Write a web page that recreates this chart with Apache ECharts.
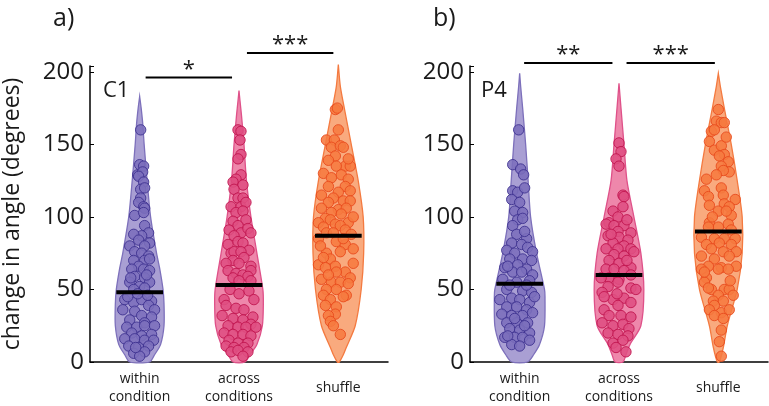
<!DOCTYPE html>
<html>
<head>
<meta charset="utf-8">
<script src="https://cdn.jsdelivr.net/npm/echarts@6/dist/echarts.min.js"></script>
<style>html,body{margin:0;padding:0;background:#fff}#c{width:769px;height:406px}</style>
</head>
<body>
<div id="c"></div>
<script>
// ---------- DATA ----------
const categories = ['within\ncondition', 'across\nconditions', 'shuffle'];
const yTicks = [0, 50, 100, 150, 200];
const panelLabels = ['a)', 'b)'];
const subjectLabels = ['C1', 'P4'];

// medians (degrees) per category
const c1Medians = [48, 53, 87];
const p4Medians = [54, 60, 90];

// violin profiles: [angle, half-width in category units]
const c1WithinViolin = [[0,.10],[5,.15],[12,.21],[25,.245],[40,.245],[50,.235],[65,.20],[75,.17],[100,.11],[125,.075],[150,.045],[165,.03],[175,.015],[183,0]];
const c1AcrossViolin = [[0,.06],[5,.11],[12,.18],[25,.235],[40,.245],[50,.24],[75,.18],[100,.12],[125,.075],[150,.05],[170,.025],[180,.01],[187,0]];
const c1ShuffleViolin = [[0,.01],[5,.05],[10,.08],[25,.17],[50,.23],[75,.255],[100,.25],[125,.20],[150,.13],[175,.06],[190,.02],[205,0]];
const p4WithinViolin = [[0,.08],[5,.14],[12,.20],[25,.25],[45,.255],[50,.25],[75,.17],[100,.11],[125,.085],[150,.06],[175,.03],[190,.01],[199,0]];
const p4AcrossViolin = [[0,.04],[5,.07],[12,.11],[25,.22],[50,.25],[75,.22],[100,.15],[125,.08],[150,.05],[175,.02],[192,0]];
const p4ShuffleViolin = [[0,.01],[10,.05],[25,.09],[50,.19],[75,.24],[100,.24],[125,.19],[150,.13],[175,.06],[190,.02],[199,0]];

// individual points: [horizontal offset (category units), angle]
const c1Within = [[.01,160],[.00,136],[.04,135],[-.02,129],[.03,131],[-.01,128],[.04,124],[.01,119],[.05,120],[.01,113],[-.01,110],[.04,107],[.05,106],[-.05,101],[.04,103],[.05,94],[.09,89],[.02,87],[-.06,88],[-.01,84],[.10,82],[.05,80],[-.10,80],[-.05,76],[.02,75],[.09,73],[-.06,70],[.05,70],[.10,71],[-.01,66],[-.08,64],[.04,64],[.10,63],[-.05,59],[.05,58],[-.10,55],[.10,55],[.00,52],[-.06,50],[.05,51],[-.15,43],[-.06,41],[.02,43],[.12,42],[-.17,36],[-.05,35],[.09,39],[.15,36],[.02,32],[-.10,29],[.12,31],[.05,27],[-.13,24],[-.03,24],[.05,25],[.15,25],[-.08,20],[.02,18],[.12,19],[-.15,16],[-.05,16],[.05,15],[.14,15],[-.11,11],[-.01,10],[.09,11],[-.06,6],[.05,7],[.00,4],[-.04,10],[-.12,45],[.08,46],[-.02,47],[-.09,58],[.07,60]];
const c1Across = [[-.01,160],[.02,159],[.01,153],[.02,143],[-.01,140],[.02,129],[-.03,126],[-.06,124],[.04,122],[-.05,119],[-.01,113],[.04,113],[-.08,107],[.02,107],[.07,110],[-.03,103],[.04,104],[-.06,97],[.07,98],[-.01,94],[-.10,91],[.02,89],[-.05,87],[.09,92],[.12,89],[-.11,81],[-.01,83],[.04,82],[.10,77],[-.08,75],[-.05,76],[.02,76],[.05,72],[-.06,70],[-.13,68],[.00,68],[.12,66],[-.11,63],[-.03,61],[.04,60],[.12,63],[-.06,58],[.09,59],[.00,56],[.12,56],[.10,49],[.15,43],[-.15,43],[-.13,39],[-.03,37],[.05,36],[.14,31],[-.17,32],[-.06,30],[.04,29],[.12,26],[-.11,25],[-.01,24],[.07,24],[.17,24],[-.15,20],[-.06,19],[.04,19],[.12,18],[-.10,15],[-.01,13],[.09,13],[-.13,11],[-.05,10],[.05,10],[-.08,7],[-.01,8],[.09,7],[.04,4],[-.09,50],[.00,47]];
const c1Shuffle = [[-.03,174],[-.01,175],[-.12,153],[-.04,153],[-.07,148],[.02,149],[.05,148],[-.03,142],[-.10,139],[.07,135],[.12,135],[-.02,135],[-.15,130],[.03,129],[-.07,127],[.10,126],[-.10,121],[.07,121],[.00,117],[-.17,115],[.12,118],[-.05,113],[.05,111],[-.10,110],[.12,111],[-.17,106],[.00,105],[.08,106],[-.07,103],[.03,102],[-.13,99],[-.20,96],[-.08,98],[.10,96],[-.03,95],[-.15,93],[.02,94],[.07,91],[-.12,89],[-.05,89],[-.02,83],[.07,81],[.15,78],[.02,76],[-.12,75],[-.08,71],[-.20,67],[-.03,66],[-.13,65],[.07,62],[-.02,62],[.12,58],[-.17,57],[-.07,55],[.02,55],[.10,54],[-.12,50],[-.02,50],[-.15,46],[.08,46],[-.08,43],[-.13,39],[-.02,38],[-.03,33],[-.10,32],[-.08,28],[.02,19],[.05,85],[-.20,85],[.13,88],[-.18,80],[.15,100],[.15,68],[-.10,60],[.05,45],[-.05,25],[-.15,72],[.10,140],[.00,160]];
const p4Within = [[-.01,160],[-.07,136],[.01,133],[.04,129],[-.07,118],[-.02,117],[.05,120],[-.08,112],[.00,110],[-.05,104],[.03,103],[-.02,98],[-.07,94],[.03,99],[-.03,88],[.07,85],[-.08,82],[.02,81],[-.13,77],[.08,79],[-.05,75],[.13,76],[.03,71],[-.10,71],[-.02,67],[.12,70],[-.15,65],[.07,64],[-.07,62],[.02,62],[.13,60],[-.17,57],[.10,56],[-.03,55],[-.13,50],[.03,49],[.12,48],[-.08,44],[-.20,43],[.00,43],[.10,41],[-.13,38],[-.03,38],[.07,36],[-.18,33],[-.08,32],[.03,32],[.13,34],[-.13,27],[-.03,27],[.08,27],[-.10,23],[.00,22],[.10,20],[-.15,17],[-.05,17],[.03,17],[-.08,12],[.00,11],[-.12,18],[.10,15],[-.05,30],[.05,25],[.15,45],[-.12,66],[.05,90],[-.10,53],[.07,53]];
const p4Across = [[.00,151],[.02,145],[-.03,140],[.00,135],[.04,115],[.05,114],[-.06,104],[.04,107],[-.01,100],[-.10,96],[-.13,95],[-.05,94],[.05,94],[-.01,90],[.12,89],[-.11,87],[.00,86],[.09,84],[-.06,82],[.05,80],[-.13,78],[-.01,78],[.12,78],[-.05,74],[.05,73],[-.10,70],[.00,68],[-.13,64],[.12,65],[-.05,64],[.05,63],[-.10,58],[.00,57],[-.18,58],[.12,60],[-.11,52],[-.01,55],[.12,51],[.17,50],[-.17,48],[-.06,43],[.05,44],[-.01,39],[.12,41],[-.15,36],[-.10,32],[.02,32],[.12,31],[-.17,27],[-.06,25],[.04,26],[.10,23],[-.11,20],[-.01,19],[.09,18],[-.06,13],[.04,15],[-.03,10],[.07,7],[-.08,88],[.08,98],[-.02,47],[.08,70],[-.15,45],[.15,76]];
const p4Shuffle = [[.00,174],[-.02,166],[.03,165],[.06,165],[-.07,159],[-.04,160],[-.09,152],[-.04,146],[.03,149],[.06,143],[.01,142],[.10,138],[.03,135],[.11,131],[.05,132],[-.02,129],[-.12,126],[-.14,118],[-.10,114],[.03,120],[.05,115],[-.09,108],[.17,112],[.06,109],[.11,107],[.00,104],[.13,101],[.08,104],[-.09,96],[.10,95],[.00,93],[-.10,93],[.13,91],[-.17,86],[-.04,85],[.06,85],[.17,85],[-.12,81],[.01,82],[.13,81],[-.07,78],[.05,76],[.18,76],[-.17,73],[.11,73],[-.04,71],[-.10,66],[.03,65],[.18,66],[-.17,64],[.00,64],[.10,64],[-.12,58],[-.14,55],[-.07,50],[-.10,51],[.06,50],[.11,50],[.15,46],[.00,46],[-.05,42],[.05,42],[-.04,39],[-.09,36],[.03,34],[.11,36],[-.04,32],[.05,30],[.03,22],[.01,14],[.03,4],[-.14,62],[.12,56],[-.06,100],[.08,155]];

// significance brackets: [from category position, to category position, angle level]
const c1Sig = [[0.06, 0.93, 196], [1.08, 1.95, 213]];
const c1SigLabels = ['*', '***'];
const p4Sig = [[0.045, 0.934, 206], [1.076, 1.965, 206]];
const p4SigLabels = ['**', '***'];

// ---------- STYLE ----------
const FONT = '"Open Sans", "Noto Sans", sans-serif';
const TXT = '#1a1a1a';
const colors = [
  {violin: '#a99fd3', outline: '#7d70bb', point: '#7b6ebc', edge: '#3e318f'},
  {violin: '#ee87ab', outline: '#df5189', point: '#df4f82', edge: '#c0144f'},
  {violin: '#f9aa7e', outline: '#f47a40', point: '#f67a40', edge: '#e84a1c'}
];

const panels = [
  {violins: [c1WithinViolin, c1AcrossViolin, c1ShuffleViolin], points: [c1Within, c1Across, c1Shuffle], medians: c1Medians, sig: c1Sig, sigLabels: c1SigLabels},
  {violins: [p4WithinViolin, p4AcrossViolin, p4ShuffleViolin], points: [p4Within, p4Across, p4Shuffle], medians: p4Medians, sig: p4Sig, sigLabels: p4SigLabels}
];

const grids = [
  {left: 90, right: 381, top: 66, bottom: 43},
  {left: 470, right: 1, top: 66, bottom: 43}
];

const xAxes = grids.map((g, i) => ({
  type: 'category', gridIndex: i, data: categories,
  axisTick: {show: false},
  axisLine: {lineStyle: {color: '#000', width: 1.5}},
  axisLabel: {fontFamily: FONT, fontSize: 14, lineHeight: 18, color: TXT, verticalAlign: 'middle', margin: 26, interval: 0}
}));
const yAxes = grids.map((g, i) => ({
  type: 'value', gridIndex: i, min: 0, max: 204, interval: 50,
  name: i === 0 ? 'change in angle (degrees)' : '',
  nameLocation: 'middle', nameGap: 66,
  nameTextStyle: {fontFamily: FONT, fontSize: 23, color: TXT},
  axisLine: {show: true, lineStyle: {color: '#000', width: 1.5}},
  axisTick: {show: true, inside: true, length: 4, lineStyle: {color: '#000'}},
  splitLine: {show: false},
  axisLabel: {fontFamily: FONT, fontSize: 24, color: TXT, margin: 6,
    formatter: v => (yTicks.indexOf(v) >= 0 ? String(v) : '')}
}));

const series = [];
panels.forEach((p, pi) => {
  // violins
  series.push({
    type: 'custom', xAxisIndex: pi, yAxisIndex: pi, clip: false, z: 1,
    data: [[0], [1], [2]],
    encode: {x: 0},
    renderItem: (params, api) => {
      const idx = api.value(0);
      const prof = p.violins[idx];
      const band = api.size([1, 0])[0];
      const right = [], left = [];
      prof.forEach(([v, w]) => {
        const c = api.coord([idx, v]);
        right.push([c[0] + w * band, c[1]]);
        left.unshift([c[0] - w * band, c[1]]);
      });
      return {type: 'polygon', shape: {points: right.concat(left), smooth: 0.25},
        style: {fill: colors[idx].violin, stroke: colors[idx].outline, lineWidth: 1.3}};
    }
  });
  // points
  const pts = [];
  p.points.forEach((arr, ci) => arr.forEach(([dx, v]) => pts.push([ci, v, dx])));
  series.push({
    type: 'custom', xAxisIndex: pi, yAxisIndex: pi, clip: false, z: 2,
    data: pts, encode: {x: 0, y: 1},
    renderItem: (params, api) => {
      const ci = api.value(0);
      const c = api.coord([ci, api.value(1)]);
      const band = api.size([1, 0])[0];
      return {type: 'circle', shape: {cx: c[0] + api.value(2) * band, cy: c[1], r: 5.2},
        style: {fill: colors[ci].point, stroke: colors[ci].edge, lineWidth: 1, opacity: 0.88}};
    }
  });
  // medians
  series.push({
    type: 'custom', xAxisIndex: pi, yAxisIndex: pi, clip: false, z: 3,
    data: p.medians.map((m, ci) => [ci, m]), encode: {x: 0, y: 1},
    renderItem: (params, api) => {
      const c = api.coord([api.value(0), api.value(1)]);
      const band = api.size([1, 0])[0];
      const hw = 0.235 * band;
      return {type: 'line', shape: {x1: c[0] - hw, y1: c[1], x2: c[0] + hw, y2: c[1]},
        style: {stroke: '#000', lineWidth: 4}};
    }
  });
  // significance brackets (positions expressed in category units from the first category)
  series.push({
    type: 'custom', xAxisIndex: pi, yAxisIndex: pi, clip: false, z: 4,
    data: p.sig.map(s => [0, s[2], s[0], s[1]]), encode: {x: 0, y: 1},
    renderItem: (params, api) => {
      const base = api.coord([0, api.value(1)]);
      const band = api.size([1, 0])[0];
      const x1 = base[0] + api.value(2) * band;
      const x2 = base[0] + api.value(3) * band;
      const y = base[1];
      return {type: 'group', children: [
        {type: 'line', shape: {x1: x1, y1: y, x2: x2, y2: y}, style: {stroke: '#000', lineWidth: 2}},
        {type: 'text', style: {text: p.sigLabels[params.dataIndex], x: (x1 + x2) / 2, y: y + 3,
          align: 'center', verticalAlign: 'bottom', fontFamily: FONT, fontSize: 22, fill: TXT}}
      ]};
    }
  });
});

const chart = echarts.init(document.getElementById('c'), null, {renderer: 'canvas'});
chart.setOption({
  animation: false,
  backgroundColor: '#fff',
  title: [
    {text: panelLabels[0], left: 48, top: 1, textStyle: {fontFamily: FONT, fontSize: 25, fontWeight: 'normal', color: TXT}},
    {text: panelLabels[1], left: 428, top: 1, textStyle: {fontFamily: FONT, fontSize: 25, fontWeight: 'normal', color: TXT}},
    {text: subjectLabels[0], left: 98, top: 75, textStyle: {fontFamily: FONT, fontSize: 22, fontWeight: 'normal', color: TXT}},
    {text: subjectLabels[1], left: 476, top: 75, textStyle: {fontFamily: FONT, fontSize: 22, fontWeight: 'normal', color: TXT}}
  ],
  grid: grids,
  xAxis: xAxes,
  yAxis: yAxes,
  series: series
});
</script>
</body>
</html>
